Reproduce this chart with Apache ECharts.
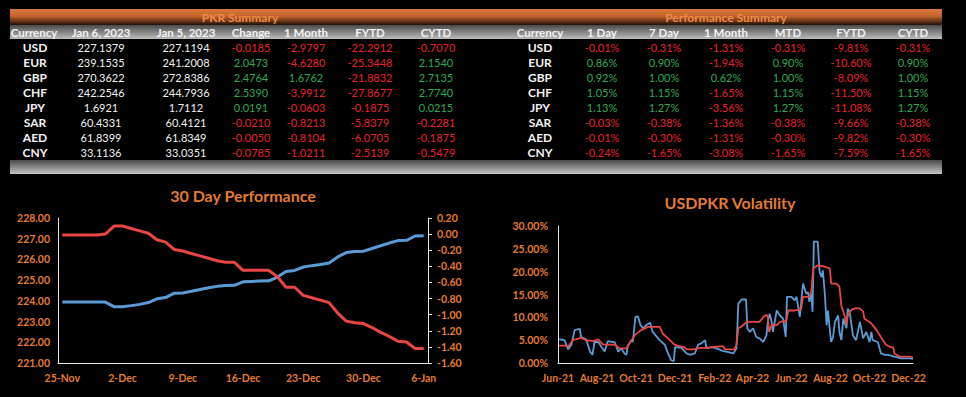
<!DOCTYPE html>
<html>
<head>
<meta charset="utf-8">
<script src="https://cdn.jsdelivr.net/npm/echarts@6/dist/echarts.min.js"></script>
<style>
html, body { margin: 0; padding: 0; background: #000; }
#main { width: 966px; height: 397px; }
</style>
</head>
<body>
<div id="main"></div>
<script>
// ---- PKR Summary table ----
var currencies = ['USD', 'EUR', 'GBP', 'CHF', 'JPY', 'SAR', 'AED', 'CNY'];
var pkrHeaders = ['Currency', 'Jan 6, 2023', 'Jan 5, 2023', 'Change', '1 Month', 'FYTD', 'CYTD'];
var rateJan6 = [227.1379, 239.1535, 270.3622, 242.2546, 1.6921, 60.4331, 61.8399, 33.1136];
var rateJan5 = [227.1194, 241.2008, 272.8386, 244.7936, 1.7112, 60.4121, 61.8349, 33.0351];
var pkrChange = [-0.0185, 2.0473, 2.4764, 2.5390, 0.0191, -0.0210, -0.0050, -0.0785];
var pkrMonth = [-2.9797, -4.6280, 1.6762, -3.9912, -0.0603, -0.8213, -0.8104, -1.0211];
var pkrFytd = [-22.2912, -25.3448, -21.8832, -27.8677, -0.1875, -5.8379, -6.0705, -2.5139];
var pkrCytd = [-0.7070, 2.1540, 2.7135, 2.7740, 0.0215, -0.2281, -0.1875, -0.5479];

// ---- Performance Summary table (%) ----
var perfHeaders = ['Currency', '1 Day', '7 Day', '1 Month', 'MTD', 'FYTD', 'CYTD'];
var perf1Day = [-0.01, 0.86, 0.92, 1.05, 1.13, -0.03, -0.01, -0.24];
var perf7Day = [-0.31, 0.90, 1.00, 1.15, 1.27, -0.38, -0.30, -1.65];
var perf1Month = [-1.31, -1.94, 0.62, -1.65, -3.56, -1.36, -1.31, -3.08];
var perfMtd = [-0.31, 0.90, 1.00, 1.15, 1.27, -0.38, -0.30, -1.65];
var perfFytd = [-9.81, -10.60, -8.09, -11.50, -11.08, -9.66, -9.82, -7.59];
var perfCytd = [-0.31, 0.90, 1.00, 1.15, 1.27, -0.38, -0.30, -1.65];

// ---- 30 Day Performance (daily, 25-Nov .. 6-Jan) ----
var dayTicks = ['25-Nov', '2-Dec', '9-Dec', '16-Dec', '23-Dec', '30-Dec', '6-Jan'];
var usdRate = [223.94, 223.94, 223.94, 223.94, 223.94, 223.94, 223.72, 223.72, 223.77, 223.83,
  223.92, 224.10, 224.16, 224.37, 224.38, 224.46, 224.55, 224.63, 224.70, 224.74,
  224.75, 224.92, 224.94, 224.96, 224.97, 225.15, 225.42, 225.47, 225.63, 225.70,
  225.76, 225.83, 226.12, 226.33, 226.38, 226.40, 226.53, 226.66, 226.79, 226.91,
  226.92, 227.13, 227.14];
var usdChange = [-0.01, -0.01, -0.01, -0.01, -0.01, 0.00, 0.10, 0.10, 0.07, 0.04,
  0.01, -0.07, -0.10, -0.19, -0.21, -0.24, -0.27, -0.30, -0.33, -0.35,
  -0.35, -0.45, -0.45, -0.45, -0.45, -0.53, -0.66, -0.66, -0.76, -0.79,
  -0.82, -0.85, -0.98, -1.08, -1.10, -1.11, -1.16, -1.22, -1.27, -1.33,
  -1.34, -1.42, -1.42];

// ---- USDPKR Volatility (%) ----
var volStart = '2021-06-01';
var volEnd = '2022-12-08';
var volTicks = ['Jun-21', 'Aug-21', 'Oct-21', 'Dec-21', 'Feb-22', 'Apr-22', 'Jun-22', 'Aug-22', 'Oct-22', 'Dec-22'];
var shortVolDates = ['2021-06-03', '2021-06-11', '2021-06-17', '2021-06-22', '2021-06-27', '2021-07-05', '2021-07-07', '2021-07-15',
  '2021-07-21', '2021-07-25', '2021-07-28', '2021-08-03', '2021-08-08', '2021-08-13', '2021-08-18', '2021-08-29',
  '2021-09-03', '2021-09-08', '2021-09-13', '2021-09-16', '2021-09-18', '2021-09-24', '2021-09-26', '2021-09-30',
  '2021-10-04', '2021-10-08', '2021-10-12', '2021-10-17', '2021-10-23', '2021-10-27', '2021-11-07', '2021-11-15',
  '2021-11-20', '2021-11-25', '2021-11-29', '2021-12-01', '2021-12-11', '2021-12-19', '2021-12-24', '2022-01-01',
  '2022-01-06', '2022-01-11', '2022-01-17', '2022-01-19', '2022-01-27', '2022-02-04', '2022-02-12', '2022-02-22',
  '2022-03-02', '2022-03-07', '2022-03-10', '2022-03-15', '2022-03-22', '2022-03-24', '2022-03-28', '2022-04-02',
  '2022-04-07', '2022-04-12', '2022-04-18', '2022-04-23', '2022-04-25', '2022-04-28', '2022-05-01', '2022-05-03',
  '2022-05-09', '2022-05-14', '2022-05-19', '2022-05-23', '2022-05-25', '2022-06-01', '2022-06-06', '2022-06-09',
  '2022-06-14', '2022-06-19', '2022-06-24', '2022-06-27', '2022-06-29', '2022-07-02', '2022-07-04', '2022-07-06',
  '2022-07-12', '2022-07-15', '2022-07-18', '2022-07-20', '2022-07-23', '2022-07-26', '2022-07-28', '2022-07-31',
  '2022-08-02', '2022-08-05', '2022-08-08', '2022-08-13', '2022-08-15', '2022-08-18', '2022-08-21', '2022-08-26',
  '2022-08-28', '2022-08-31', '2022-09-05', '2022-09-10', '2022-09-16', '2022-09-21', '2022-09-26', '2022-10-01',
  '2022-10-04', '2022-10-06', '2022-10-14', '2022-10-19', '2022-10-25', '2022-10-30', '2022-11-09', '2022-11-20',
  '2022-12-03', '2022-12-08'];
var shortVol = [5.2, 5.0, 3.0, 4.0, 7.2, 7.5, 5.7, 5.2,
  2.5, 1.8, 4.6, 4.6, 3.5, 2.5, 4.8, 4.5,
  2.5, 3.2, 2.1, 1.8, 3.8, 5.0, 4.6, 10.1,
  10.2, 8.3, 7.6, 8.3, 8.8, 6.8, 5.0, 4.0,
  2.1, 0.6, 0.4, 3.5, 3.3, 2.1, 1.8, 2.1,
  4.0, 4.3, 5.0, 3.2, 3.5, 3.2, 2.7, 2.4,
  2.1, 3.2, 13.0, 13.9, 13.9, 7.6, 6.8, 7.6,
  5.7, 5.4, 4.6, 6.1, 9.0, 10.8, 9.0, 6.8,
  11.5, 10.4, 9.7, 5.7, 14.5, 14.5, 13.7, 14.5,
  10.1, 17.4, 15.2, 15.5, 13.4, 15.2, 11.2, 26.6,
  26.6, 19.9, 18.8, 20.3, 15.5, 8.3, 11.5, 7.2,
  4.6, 5.7, 9.0, 10.4, 6.8, 5.0, 9.7, 7.6,
  11.9, 11.2, 6.1, 5.0, 9.0, 5.4, 6.8, 4.6,
  6.8, 5.0, 4.6, 2.1, 1.8, 1.8, 1.4, 1.0,
  1.0, 0.9];
var longVolDates = ['2021-06-03', '2021-06-11', '2021-06-17', '2021-06-24', '2021-07-07', '2021-07-15', '2021-07-26', '2021-08-03',
  '2021-08-10', '2021-08-29', '2021-09-05', '2021-09-16', '2021-09-20', '2021-09-29', '2021-10-09', '2021-10-20',
  '2021-11-07', '2021-11-12', '2021-11-20', '2021-11-30', '2021-12-05', '2021-12-15', '2021-12-19', '2021-12-29',
  '2022-01-09', '2022-01-19', '2022-01-30', '2022-02-14', '2022-02-17', '2022-03-04', '2022-03-07', '2022-03-10',
  '2022-03-15', '2022-03-23', '2022-04-12', '2022-04-20', '2022-04-25', '2022-04-27', '2022-05-01', '2022-05-09',
  '2022-05-14', '2022-05-24', '2022-05-27', '2022-06-06', '2022-06-16', '2022-06-19', '2022-06-29', '2022-07-02',
  '2022-07-05', '2022-07-12', '2022-07-20', '2022-07-31', '2022-08-02', '2022-08-10', '2022-08-15', '2022-08-18',
  '2022-08-23', '2022-08-26', '2022-08-28', '2022-09-03', '2022-09-10', '2022-09-16', '2022-09-21', '2022-09-23',
  '2022-10-01', '2022-10-06', '2022-10-12', '2022-10-22', '2022-10-27', '2022-11-01', '2022-11-07', '2022-11-09',
  '2022-11-17', '2022-12-03', '2022-12-08'];
var longVol = [3.8, 3.8, 3.6, 5.0, 5.5, 5.0, 4.8, 5.2,
  4.1, 4.0, 3.2, 3.2, 4.1, 6.1, 7.2, 7.9,
  7.9, 6.4, 5.4, 4.0, 3.8, 3.5, 3.0, 3.0,
  3.3, 3.3, 3.5, 3.7, 3.0, 3.0, 4.0, 7.6,
  8.0, 9.0, 9.0, 10.4, 10.4, 6.8, 8.3, 8.3,
  9.0, 9.2, 11.5, 11.5, 11.7, 14.5, 14.5, 15.6,
  20.7, 21.4, 21.2, 20.7, 17.4, 17.4, 16.7, 12.6,
  10.4, 8.3, 10.4, 11.7, 12.0, 11.9, 11.3, 9.7,
  9.0, 8.3, 7.2, 5.0, 4.0, 3.6, 3.4, 2.1,
  1.4, 1.4, 1.2];

var ORANGE = '#E37B33';
var RED_TXT = '#E8232A';
var GREEN_TXT = '#33A852';
var WHITE_TXT = '#F2F2F2';
var MONTHS = ['Jan', 'Feb', 'Mar', 'Apr', 'May', 'Jun', 'Jul', 'Aug', 'Sep', 'Oct', 'Nov', 'Dec'];

function dayOf(str) {
  return Math.round((Date.parse(str) - Date.parse(volStart)) / 864e5);
}
function tickDay(label) {
  var m = MONTHS.indexOf(label.slice(0, 3));
  var y = 2000 + parseInt(label.slice(4), 10);
  return Math.round((Date.UTC(y, m, 1) - Date.parse(volStart)) / 864e5);
}
function signColor(v) {
  return v < 0 ? RED_TXT : GREEN_TXT;
}

function txt(x, y, s, color, font) {
  return {
    type: 'text', x: x, y: y, silent: true,
    style: { text: s, fill: color, font: font, align: 'center', verticalAlign: 'middle' }
  };
}

function makeTables() {
  var els = [];
  var orangeBar = new echarts.graphic.LinearGradient(0, 0, 0, 1, [
    { offset: 0, color: '#D8773A' }, { offset: 0.45, color: '#C4652C' }, { offset: 1, color: '#1E1009' }
  ]);
  var grayHead = new echarts.graphic.LinearGradient(0, 0, 0, 1, [
    { offset: 0, color: '#4A4A4A' }, { offset: 1, color: '#BDBDBD' }
  ]);
  var grayFoot = new echarts.graphic.LinearGradient(0, 0, 0, 1, [
    { offset: 0, color: '#4A4A4A' }, { offset: 1, color: '#C4C4C4' }
  ]);
  els.push({ type: 'rect', shape: { x: 10, y: 9, width: 932, height: 16 }, style: { fill: orangeBar } });
  els.push({ type: 'rect', shape: { x: 10, y: 25, width: 932, height: 14 }, style: { fill: grayHead } });
  els.push({ type: 'rect', shape: { x: 10, y: 160, width: 932, height: 14 }, style: { fill: grayFoot } });
  els.push(txt(240, 17, 'PKR Summary', '#EE8C48', 'bold 12px Lato'));
  els.push(txt(726, 17, 'Performance Summary', '#EE8C48', 'bold 12px Lato'));

  var pkrCols = [34, 101, 186, 251, 306, 370, 436];
  var perfCols = [540, 602, 664, 726, 788, 851, 913];
  var headFont = 'bold 11.5px Lato';
  pkrHeaders.forEach(function (h, i) { els.push(txt(pkrCols[i], 32, h, WHITE_TXT, headFont)); });
  perfHeaders.forEach(function (h, i) { els.push(txt(perfCols[i], 32, h, WHITE_TXT, headFont)); });

  var pkrData = [rateJan6, rateJan5, pkrChange, pkrMonth, pkrFytd, pkrCytd];
  var perfData = [perf1Day, perf7Day, perf1Month, perfMtd, perfFytd, perfCytd];
  var valFont = '11px Lato';
  currencies.forEach(function (c, r) {
    var y = 47 + r * 15;
    els.push(txt(pkrCols[0] + 1, y, c, WHITE_TXT, 'bold 12px Lato'));
    els.push(txt(perfCols[0], y, c, WHITE_TXT, 'bold 12px Lato'));
    pkrData.forEach(function (col, j) {
      var v = col[r];
      var colr = j < 2 ? WHITE_TXT : signColor(v);
      els.push(txt(pkrCols[j + 1], y, v.toFixed(4), colr, valFont));
    });
    perfData.forEach(function (col, j) {
      var v = col[r];
      els.push(txt(perfCols[j + 1], y, v.toFixed(2) + '%', signColor(v), valFont));
    });
  });
  return els;
}

function fix2(v) {
  if (Math.abs(v) < 1e-9) v = 0;
  return v.toFixed(2);
}

var labelStyle = { color: ORANGE, fontFamily: 'Lato', fontWeight: 'bold', fontSize: 10.5 };
var whiteLine = { show: true, onZero: false, lineStyle: { color: '#E6E6E6', width: 1 } };

var volTickDays = volTicks.map(tickDay);

var option = {
  backgroundColor: '#000',
  animation: false,
  title: [
    { text: '30 Day Performance', left: 238, top: 182, textAlign: 'center',
      textStyle: { color: ORANGE, fontFamily: 'Lato', fontWeight: 'bold', fontSize: 16 } },
    { text: 'USDPKR Volatility', left: 725, top: 189, textAlign: 'center',
      textStyle: { color: ORANGE, fontFamily: 'Lato', fontWeight: 'bold', fontSize: 16 } }
  ],
  graphic: { elements: makeTables() },
  grid: [
    { left: 58, right: 538, top: 218, bottom: 34 },
    { left: 558, right: 53, top: 226, bottom: 34 }
  ],
  xAxis: [
    {
      type: 'value', gridIndex: 0, min: -0.5, max: 42.5,
      axisLine: whiteLine, axisTick: { show: false }, splitLine: { show: false },
      axisLabel: Object.assign({
        margin: 9,
        customValues: dayTicks.map(function (t, i) { return i * 7; }),
        formatter: function (v) { return dayTicks[Math.round(v / 7)]; }
      }, labelStyle)
    },
    {
      type: 'value', gridIndex: 1, min: 0, max: dayOf(volEnd),
      axisLine: whiteLine, axisTick: { show: false }, splitLine: { show: false },
      axisLabel: Object.assign({
        margin: 9,
        customValues: volTickDays,
        formatter: function (v) { return volTicks[volTickDays.indexOf(v)]; }
      }, labelStyle)
    }
  ],
  yAxis: [
    {
      type: 'value', gridIndex: 0, min: 221, max: 228, interval: 1,
      axisLine: whiteLine, axisTick: { show: false }, splitLine: { show: false },
      axisLabel: Object.assign({ margin: 8, formatter: fix2 }, labelStyle)
    },
    {
      type: 'value', gridIndex: 0, position: 'right', min: -1.6, max: 0.2, interval: 0.2,
      axisLine: whiteLine,
      axisTick: { show: true, length: 4, lineStyle: { color: '#E6E6E6' } },
      splitLine: { show: false },
      axisLabel: Object.assign({ margin: 9, formatter: fix2 }, labelStyle)
    },
    {
      type: 'value', gridIndex: 1, min: 0, max: 30, interval: 5,
      axisLine: whiteLine, axisTick: { show: false }, splitLine: { show: false },
      axisLabel: Object.assign({ margin: 10, formatter: function (v) { return v.toFixed(2) + '%'; } }, labelStyle)
    }
  ],
  series: [
    {
      name: 'USD/PKR', type: 'line', xAxisIndex: 0, yAxisIndex: 0, showSymbol: false,
      lineStyle: { color: '#5B9BD5', width: 3 }, itemStyle: { color: '#5B9BD5' },
      data: usdRate.map(function (v, i) { return [i, v]; })
    },
    {
      name: 'Change', type: 'line', xAxisIndex: 0, yAxisIndex: 1, showSymbol: false,
      lineStyle: { color: '#EA4545', width: 3 }, itemStyle: { color: '#EA4545' },
      data: usdChange.map(function (v, i) { return [i, v]; })
    },
    {
      name: 'Short Vol', type: 'line', xAxisIndex: 1, yAxisIndex: 2, showSymbol: false,
      lineStyle: { color: '#5B9BD5', width: 1.8 }, itemStyle: { color: '#5B9BD5' },
      data: shortVol.map(function (v, i) { return [dayOf(shortVolDates[i]), v]; })
    },
    {
      name: 'Long Vol', type: 'line', xAxisIndex: 1, yAxisIndex: 2, showSymbol: false,
      lineStyle: { color: '#EA4545', width: 1.8 }, itemStyle: { color: '#EA4545' },
      data: longVol.map(function (v, i) { return [dayOf(longVolDates[i]), v]; })
    }
  ]
};

var chart = echarts.init(document.getElementById('main'), null, { renderer: 'svg' });
chart.setOption(option);
</script>
</body>
</html>
